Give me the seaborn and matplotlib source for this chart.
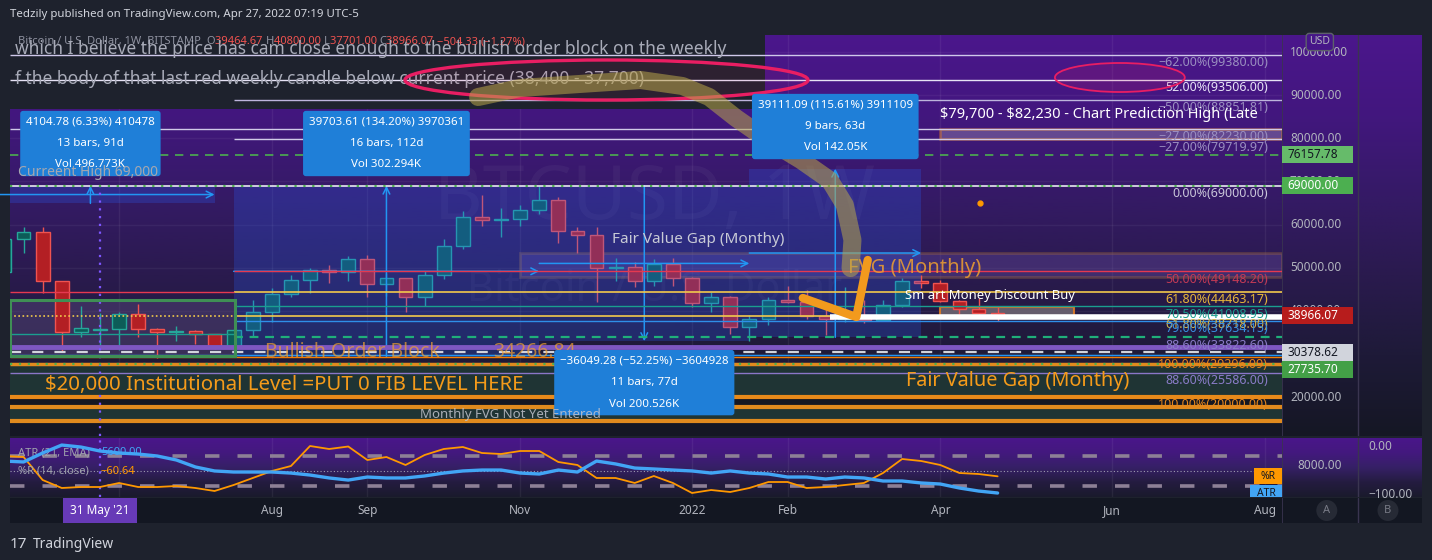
import numpy as np
import pandas as pd
import matplotlib
matplotlib.use("Agg")
import matplotlib.pyplot as plt
import matplotlib.transforms as mtrans
from matplotlib.patches import Rectangle, Ellipse
from matplotlib.colors import LinearSegmentedColormap
import seaborn as sns

# weekly BTCUSD (Bitstamp) candles, week of 26 Apr 2021 .. 25 Apr 2022
week_start = "2021-04-26"
opens = [49100, 56600, 58200, 46800, 35000, 35600, 35800, 39300, 35700, 35000,
         35400, 34500, 31500, 35500, 39800, 44000, 47200, 49400, 49000, 52000,
         46300, 47500, 43300, 48300, 54900, 61800, 61100, 61300, 63400, 65700,
         58600, 57600, 49800, 50200, 46800, 50900, 47500, 41900, 43300, 36300,
         38200, 42600, 42100, 38700, 38000, 38400, 37800, 41300, 46800, 46400,
         42200, 40400, 39464.67]
highs = [57900, 59500, 59500, 46900, 41200, 39500, 39700, 41500, 35900, 36500,
         35500, 34700, 35800, 42600, 45200, 48400, 50000, 50600, 52800, 53000,
         48800, 47600, 49200, 56600, 63100, 66900, 63800, 64600, 69000, 66400,
         59500, 59400, 52300, 51400, 52100, 52300, 47900, 44400, 43500, 39100,
         43100, 45800, 44900, 40500, 45400, 42500, 42400, 47700, 48200, 47200,
         42400, 42900, 40800]
lows = [47000, 53400, 44200, 30600, 33800, 31100, 31000, 33800, 29000, 32900,
        32300, 31100, 29400, 34100, 37500, 43100, 44200, 46500, 46800, 43100,
        43500, 39800, 41000, 47300, 54300, 59600, 57000, 59700, 62500, 55800,
        53500, 42100, 47000, 45600, 45800, 45800, 40800, 39700, 34500, 33100,
        36800, 41700, 38000, 34400, 37500, 37200, 37600, 40900, 45200, 42100,
        39200, 38500, 37701]
closes = [56600, 58200, 46800, 35000, 35900, 35800, 39300, 35700, 35000, 35400,
          34500, 31700, 35500, 39800, 44000, 47200, 49400, 49000, 52000, 46300,
          47500, 43300, 48300, 54900, 61800, 61100, 61300, 63400, 65700, 58600,
          57600, 49800, 50200, 46800, 50900, 47500, 41900, 43300, 36300, 38200,
          42600, 42100, 38700, 38000, 38400, 37800, 41300, 46800, 46400, 42200,
          40400, 39400, 38966.07]
atr = [8340, 8260, 9030, 9710, 9540, 9200, 9030, 8940, 8770, 8430,
       7830, 7490, 7400, 7400, 7400, 7310, 7140, 6890, 6710, 6970,
       6890, 6890, 7060, 7310, 7490, 7570, 7570, 7310, 7230, 7570,
       7400, 8340, 8090, 7740, 7660, 7570, 7490, 7310, 7490, 7310,
       7230, 6970, 6970, 6800, 6970, 6890, 6630, 6630, 6460, 6370,
       6030, 5770, 5600]
williams_r = [-20, -22, -68, -84, -82, -82, -74, -82, -82, -80,
              -84, -90, -78, -64, -50, -40, 0, -6, -1, -28,
              -22, -38, -18, -6, -2, -14, -16, -10, -10, -32,
              -38, -64, -64, -74, -60, -74, -94, -88, -92, -84,
              -72, -72, -84, -82, -78, -74, -54, -26, -30, -38,
              -54, -56, -60.64]

# fib levels drawn on the chart
fib_prices = [99380.00, 93506.00, 88851.81, 82230.00, 79719.97, 69000.00, 49148.20,
              44463.17, 41008.95, 38718.00, 37634.15, 33822.60, 29296.09, 25586.00, 20000.00]
fib_pcts = ["−62.00%", "52.00%", "−50.00%", "−27.00%", "−27.00%", "0.00%", "50.00%",
            "61.80%", "70.50%", "61.80%", "79.00%", "88.60%", "100.00%", "88.60%", "100.00%"]

# price-range measurements: start bar, end bar, from price, to price
meas_start = [-7, 7, 23, 34]
meas_end = [6, 23, 34, 43]
meas_from = [64895.22, 29296.39, 69000.00, 33829.91]
meas_to = [69000.00, 69000.00, 32950.72, 72941.00]
meas_text = ["4104.78 (6.33%) 410478\n13 bars, 91d\nVol 496.773K",
             "39703.61 (134.20%) 3970361\n16 bars, 112d\nVol 302.294K",
             "−36049.28 (−52.25%) −3604928\n11 bars, 77d\nVol 200.526K",
             "39111.09 (115.61%) 3911109\n9 bars, 63d\nVol 142.05K"]

tag_prices = [76157.78, 69000.00, 38966.07, 30378.62, 27735.70]
price_ticks = [100000, 90000, 80000, 70000, 60000, 50000, 40000, 30000, 20000]
tick_months = ["2021-06", "2021-08", "2021-09", "2021-11", "2022-01", "2022-02", "2022-04", "2022-06", "2022-08"]
tick_labels = ["Jun", "Aug", "Sep", "Nov", "2022", "Feb", "Apr", "Jun", "Aug"]

# hand drawings (bar, price)
stroke_x = [19.8, 22.0, 25.1, 28.3, 30.5, 31.9, 33.3, 34.8, 36.7, 38.2, 39.0, 39.4, 39.3]
stroke_p = [89565, 91652, 92580, 93507, 92116, 89565, 84696, 80058, 74957, 70319, 64522, 56407, 49914]
check_x = [36.8, 39.6, 40.2]
check_p = [42958, 38552, 51769]

sns.set_theme(style="dark", rc={"axes.grid": False})
plt.rcParams["font.family"] = ["Noto Sans", "DejaVu Sans"]

ref = pd.Timestamp("2021-05-31")
weeks = pd.date_range(week_start, periods=len(closes), freq="W-MON")
df = pd.DataFrame({"bar": (weeks - ref).days // 7, "open": opens, "high": highs,
                   "low": lows, "close": closes, "atr": atr, "wr": williams_r})
tick_bars = [int(np.ceil((pd.Timestamp(m + "-01") - ref).days / 7)) for m in tick_months]

W, H = 1432, 560
fig = plt.figure(figsize=(W / 100, H / 100), dpi=100, facecolor="#1e222d")


def rect(l, t, r, b):
    return [l / W, 1 - b / H, (r - l) / W, (b - t) / H]


def bare(a, fc="#131722"):
    a.set_facecolor(fc)
    a.set_xticks([])
    a.set_yticks([])
    a.set_xlabel("")
    a.set_ylabel("")
    for s in a.spines.values():
        s.set_visible(False)


def gradient(a, stops):
    cmap = LinearSegmentedColormap.from_list("g", stops)
    x0, x1 = a.get_xlim()
    y0, y1 = a.get_ylim()
    a.imshow(np.linspace(0, 1, 256)[:, None], cmap=cmap, aspect="auto",
             extent=(x0, x1, y0, y1), zorder=0)
    a.set_xlim(x0, x1)
    a.set_ylim(y0, y1)


XL = (-4.71, 61.89)
YL = (10958, 103942)
ax = fig.add_axes(rect(10, 35, 1282, 436))
axi = fig.add_axes(rect(10, 438, 1282, 497))
axt = fig.add_axes(rect(10, 498, 1282, 523))
axr = fig.add_axes(rect(1282, 35, 1422, 436))
axri = fig.add_axes(rect(1282, 438, 1422, 497))
axr2 = fig.add_axes(rect(1282, 498, 1422, 523))
for a in (ax, axi, axt):
    a.set_xlim(*XL)
ax.set_ylim(*YL)
axi.set_ylim(-102, 16)

main_stops = ["#4b168c", "#42177e", "#351a66", "#2a1a4e", "#1e1a38", "#151724"]
ind_stops = ["#4a168a", "#43197e", "#362066", "#241c40", "#1a1a2c"]
gradient(ax, main_stops)
gradient(axi, ind_stops)
gradient(axr, main_stops)
gradient(axri, ind_stops)

# grid
for b in tick_bars:
    ax.axvline(b, color="white", alpha=0.06, lw=1, zorder=0.5)
    axi.axvline(b, color="white", alpha=0.06, lw=1, zorder=0.5)
for p in price_ticks:
    ax.axhline(p, color="white", alpha=0.05, lw=1, zorder=0.5)

# bottom FVG boxes
ax.add_patch(Rectangle((XL[0], 20000), XL[1] - XL[0], 27735.70 - 20000, fc="#1f3434", ec="none", zorder=1))
ax.add_patch(Rectangle((XL[0], 17700), XL[1] - XL[0], 20000 - 17700, fc="#141722", ec="none", zorder=1))
ax.add_patch(Rectangle((XL[0], 14450), XL[1] - XL[0], 17700 - 14450, fc="#1f3434", ec="none", zorder=1))
ax.add_patch(Rectangle((XL[0], YL[0]), XL[1] - XL[0], 14450 - YL[0], fc="#151724", ec="none", zorder=1))

# zones
ax.add_patch(Rectangle((XL[0], 29500), 7.07 - XL[0], 13000, fc="#5a4a80", alpha=0.45, ec="none", zorder=1.2))
ax.add_patch(Rectangle((XL[0], 29500), 7.07 - XL[0], 13000, fc="none", ec="#3f8f55", lw=2.2, zorder=3.3))
ax.add_patch(Rectangle((22, 47827), XL[1] - 22, 53392 - 47827, fc="#6b4fa8", alpha=0.35, ec="#a86f3a", lw=2, zorder=1.3))
ax.add_patch(Rectangle((44, 79720), XL[1] - 44, 2510, fc="#8a7aa8", alpha=0.5, ec="#e07b24", lw=1.8, zorder=1.3))
ax.add_patch(Rectangle((44, 38784), 7, 2086, fc="#6d6470", alpha=0.9, ec="#e07b24", lw=1.5, zorder=1.9))

# watermark
ax.text(29.06, 65682, "BTCUSD, 1W", fontsize=54, color="white", alpha=0.04, ha="center", va="center", zorder=1.5)
ax.text(29.06, 44812, "Bitcoin / U.S. Dollar", fontsize=30, color="white", alpha=0.04, ha="center", va="center", zorder=1.5)

# candles
up = df["close"] >= df["open"]
body_lo = np.minimum(df["open"], df["close"])
body_h = np.maximum(np.abs(df["close"] - df["open"]), 250)
face = np.where(up, "#0d5c58", "#b31f24")
edge = np.where(up, "#26a69a", "#ef5350")
ax.vlines(df["bar"], df["low"], df["high"], colors=edge, lw=1, zorder=2)
ax.bar(df["bar"], body_h, bottom=body_lo, width=0.72, color=face, edgecolor=edge, linewidth=1, zorder=2.1)

# measurements
for s, e, p0, p1, txt in zip(meas_start, meas_end, meas_from, meas_to, meas_text):
    lo, hi = min(p0, p1), max(p0, p1)
    ax.add_patch(Rectangle((s, lo), e - s, hi - lo, fc="#2962ff", alpha=0.24, ec="none", zorder=2.6))
    mx, mp = (s + e) / 2, (p0 + p1) / 2
    arrow = dict(arrowstyle="->", color="#2196f3", lw=1.1, shrinkA=0, shrinkB=0)
    ax.annotate("", xy=(mx, p1), xytext=(mx, p0), arrowprops=arrow, zorder=2.7)
    ax.annotate("", xy=(e, mp), xytext=(s, mp), arrowprops=arrow, zorder=2.7)
    rising = p1 > p0
    ax.annotate(txt, xy=(mx, hi if rising else lo), xytext=(0, 11 if rising else -10.5),
                textcoords="offset points", ha="center", va="bottom" if rising else "top",
                fontsize=8.3, color="white", linespacing=2.3, zorder=6,
                bbox=dict(boxstyle="round,pad=0.5,rounding_size=0.25", fc="#1f7fd8", ec="none"))

# dark pasted note at the top
ax.add_patch(Rectangle((XL[0], 86783), 34.82 - XL[0], YL[1] - 86783, fc="#1e222d", ec="none", zorder=2.8))

# fib lines and labels
fib_start = [XL[0], XL[0], 7, XL[0], 7, XL[0], 7, 7, 7, 7, 7, 7, XL[0], XL[0], XL[0]]
fib_line_colors = ["#cfc8ea", "#e6e2f5", "#bdb4dc", "#d0cae8", "#d0cae8", "#e8e8f0", "#e53950",
                   "#f2c94c", "#1a9e8f", "#f2c94c", "#2f8fe8", "#1fb07a", "#f57c00", "#8a76c8", "#e88a1a"]
fib_text_colors = ["#9a8fc0", "#e6e2f5", "#9a8fc0", "#9a8fc0", "#9a8fc0", "#c9c6da", "#c23a55",
                   "#e8b53a", "#1a9e8f", "#d4b84a", "#3a8fe0", "#8a7cc8", "#e8861a", "#8a7cc8", "#e8861a"]
fib_lw = [1, 1, 1, 1, 1, 1.2, 1, 1.2, 1, 1.2, 1, 1.6, 1, 1, 3]
fib_ls = ["-"] * 11 + [(0, (4, 3))] + ["-"] * 3
for p, s, lc, lbl, tc, lw, ls in zip(fib_prices, fib_start, fib_line_colors, fib_pcts, fib_text_colors, fib_lw, fib_ls):
    ax.hlines(p, s, XL[1], colors=lc, lw=lw, linestyles=[ls], zorder=3)
    ax.annotate(f"{lbl}({p:.2f})", xy=(61.15, p), xytext=(0, -1), textcoords="offset points",
                ha="right", va="top", fontsize=9, color=tc, zorder=4)

# order-block fib (left part)
ax.hlines(44463.17, XL[0], 7, colors="#e53950", lw=1, zorder=3)
ax.hlines(38718.00, XL[0], 7, colors="#f2c94c", lw=1.2, linestyles=[(0, (1, 1.5))], zorder=3)
ax.hlines(34600, XL[0], 7, colors="#1a9e8f", lw=1, zorder=3)

# other levels
ax.hlines(76157.78, *XL, colors="#4caf50", lw=1.2, linestyles=[(0, (5, 4))], zorder=3)
ax.hlines(69000.00, *XL, colors="#4caf50", lw=1.6, linestyles=[(0, (1, 3))], zorder=3.1)
ax.hlines(31480, *XL, colors="#7e57c2", lw=3.5, zorder=2.9)
ax.hlines(30378.62, *XL, colors="#d1d4dc", lw=1.6, linestyles=[(0, (5, 5))], zorder=3)
ax.hlines(29740, *XL, colors="#2196f3", lw=1, zorder=3)
ax.hlines(27735.70, *XL, colors="#e08a1e", lw=2.5, zorder=3)
ax.hlines(27735.70, *XL, colors="#4caf50", lw=1.6, linestyles=[(0, (1, 3))], zorder=3.1)
ax.hlines([17700, 14450], *XL, colors="#e08a1e", lw=3, zorder=3)
ax.hlines(38600, 38.2, XL[1], colors="white", lw=4, zorder=3.2)

# crosshair
ax.vlines(0, YL[0], 69000, colors="#7e57ff", lw=1.6, linestyles=[(0, (1, 2.5))], zorder=3)
axi.axvline(0, color="#7e57ff", lw=1.6, ls=(0, (1, 2.5)), zorder=3)

# drawings
ax.add_patch(Ellipse((26.52, 93507), 21.1, 9275, fc="#e91e63", alpha=0.08, ec="none", zorder=4.4))
ax.add_patch(Ellipse((26.52, 93507), 21.1, 9275, fill=False, ec="#e91e63", lw=2.4, zorder=4.5))
ax.add_patch(Ellipse((53.4, 94087), 6.8, 6725, fc=(0.91, 0.12, 0.39, 0.15), ec="#e91e63", lw=1.3, zorder=4.5))
ax.plot(stroke_x, stroke_p, color="#b8a64a", alpha=0.55, lw=13, solid_capstyle="round",
        solid_joinstyle="round", zorder=5)
ax.plot(check_x, check_p, color="#f29a1d", lw=6, solid_capstyle="round", zorder=5.1)
ax.plot([46.07], [64986], "o", color="#ff9800", ms=3.5, zorder=5)

# texts
note1 = "which I believe the price has cam close enough to the bullish order block on the weekly"
note2 = "f the body of that last red weekly candle below current price (38,400 - 37,700)"
t = ax.text(-4.29, 102319, "Bitcoin / U.S. Dollar, 1W, BITSTAMP  ", fontsize=8, color="#8f92a0", va="center", zorder=3.4)
for s, c in [("O", "#8f92a0"), ("39464.67 ", "#ef5350"), ("H", "#8f92a0"), ("40800.00 ", "#ef5350"),
             ("L", "#8f92a0"), ("37701.00 ", "#ef5350"), ("C", "#8f92a0"), ("38966.07 ", "#ef5350"),
             ("−504.33 (−1.27%)", "#ef5350")]:
    t = ax.annotate(s, xy=(1, 0), xycoords=t, va="bottom", ha="left", fontsize=8, color=c, zorder=3.4)
ax.text(-4.45, 100700, note1, fontsize=12.5, color="#a8abb8", va="center", zorder=3.5)
ax.text(-4.45, 93750, note2, fontsize=12.5, color="#a8abb8", va="center", zorder=3.5)
ax.text(-4.29, 72174, "Curreent High 69,000", fontsize=10, fontweight="bold", color="#a5a7b0", va="center", zorder=7)
ax.text(43.98, 85623, r"\$79,700 - \$82,230 - Chart Prediction High (Late", fontsize=10.5, color="white",
        va="center", zorder=4, clip_on=True)
ax.text(26.81, 56407, "Fair Value Gap (Monthy)", fontsize=11, color="#c8cad6", va="center", zorder=4)
ax.text(39.16, 49914, "FVG (Monthly)", fontsize=14.5, color="#f0a030", alpha=0.85, va="center", zorder=4)
ax.text(42.15, 43653, "Sm art Money Discount Buy", fontsize=9.4, color="white", va="center", zorder=4)
ax.text(8.64, 30436, "Bullish Order Block", fontsize=14, color="#f0a030", alpha=0.7, va="center", zorder=4)
ax.text(20.58, 30436, "34266.84", fontsize=14, color="#f0a030", alpha=0.7, va="center", zorder=4)
ax.text(-2.88, 22784, r"\$20,000 Institutional Level =PUT 0 FIB LEVEL HERE", fontsize=14.7, color="#f59b1a",
        va="center", zorder=4)
ax.text(42.2, 23712, "Fair Value Gap (Monthy)", fontsize=14.3, color="#f59b1a", va="center", zorder=4)
ax.text(16.75, 15950, "Monthly FVG Not Yet Entered", fontsize=9.5, color="#c0c2cc", alpha=0.85,
        va="center", zorder=7)

# indicator pane
axa = axi.twinx()
axa.set_ylim(5258, 10314)
axi.axhline(-20, color="#8d8096", lw=2.6, dashes=(4, 5), zorder=1)
axi.axhline(-80, color="#8d8096", lw=2.6, dashes=(4, 5), zorder=1)
axi.axhline(-50, color="#9c9cb0", lw=0.8, ls=(0, (1, 2)), zorder=1)
sns.lineplot(data=df, x="bar", y="wr", ax=axi, color="#ff9800", lw=1.3, zorder=3)
sns.lineplot(data=df, x="bar", y="atr", ax=axa, color="#42a5f5", lw=2.4, zorder=3)
axi.set_xlim(*XL)
axi.set_ylim(-102, 16)
axa.set_ylim(5258, 10314)
axi.text(0.0063, 0.746, "ATR (21, EMA)", transform=axi.transAxes, fontsize=8, color="#a0a3ad", va="center")
axi.text(0.0715, 0.746, f"{atr[-1]:.2f}", transform=axi.transAxes, fontsize=8, color="#42a5f5", va="center")
axi.text(0.0063, 0.44, "%R (14, close)", transform=axi.transAxes, fontsize=8, color="#a0a3ad", va="center")
axi.text(0.0715, 0.44, f"{williams_r[-1]:.2f}".replace("-", "−"), transform=axi.transAxes, fontsize=8,
         color="#ff9800", va="center")
tb = mtrans.blended_transform_factory(axi.transAxes, axi.transData)
axi.add_patch(Rectangle((0.978, williams_r[-1] - 16), 0.022, 32, transform=tb, fc="#ff9800", ec="none", zorder=5))
axi.text(0.989, williams_r[-1], "%R", transform=tb, fontsize=7.5, color="#131722", ha="center", va="center", zorder=6)
ta = mtrans.blended_transform_factory(axa.transAxes, axa.transData)
axa.add_patch(Rectangle((0.975, atr[-1] - 686), 0.025, 1372, transform=ta, fc="#42a5f5", ec="none", zorder=5))
axa.text(0.9875, atr[-1], "ATR", transform=ta, fontsize=7.5, color="#131722", ha="center", va="center", zorder=6)

# time axis (the month under the crosshair label is hidden)
bare(axt)
tt = mtrans.blended_transform_factory(axt.transData, axt.transAxes)
for b, lbl in zip(tick_bars, tick_labels):
    if abs(b) > 2:
        axt.text(b, 0.5, lbl, transform=tt, ha="center", va="center", fontsize=8.5, color="#b2b5be")
axt.add_patch(Rectangle((-1.94, 0), 3.88, 1, transform=tt, fc="#673ab7", ec="none", zorder=5))
axt.text(0, 0.5, "31 May '21", transform=tt, ha="center", va="center", fontsize=8.5, color="white", zorder=6)

# right price scale
tr = mtrans.blended_transform_factory(axr.transAxes, ax.transData)
for p in price_ticks:
    axr.text(0.057, p, f"{p:.2f}", transform=tr, fontsize=8.5, color="#b2b5be", va="center", clip_on=False)
tag_fc = ["#66bb6a", "#4caf50", "#b71c1c", "#d1d4dc", "#43a047"]
tag_tc = ["#131722", "white", "white", "#131722", "white"]
gap = 17 * (YL[1] - YL[0]) / 401
placed = []
for p in tag_prices:
    y = p
    if placed and placed[-1] - y < gap:
        y = placed[-1] - gap
    placed.append(y)
for y, p, fc, tc in zip(placed, tag_prices, tag_fc, tag_tc):
    axr.add_patch(Rectangle((0, y - gap / 2), 0.507, gap, transform=tr, fc=fc, ec="none", zorder=5, clip_on=False))
    axr.text(0.036, y, f"{p:.2f}", transform=tr, fontsize=8.5, color=tc, va="center", zorder=6, clip_on=False)
axr.text(0.27, 102319, "USD", transform=tr, fontsize=7.5, color="#b2b5be", ha="center", va="center", zorder=6,
         bbox=dict(boxstyle="round,pad=0.3", fc="#461688", ec="#5d606b", lw=1))
tra = mtrans.blended_transform_factory(axri.transAxes, axa.transData)
axri.text(0.107, 8000, "8000.00", transform=tra, fontsize=8.5, color="#b2b5be", va="center", clip_on=False)
tri = mtrans.blended_transform_factory(axri.transAxes, axi.transData)
axri.text(0.614, 0, "0.00", transform=tri, fontsize=8.5, color="#b2b5be", va="center", clip_on=False)
axri.text(0.614, -96, "−100.00", transform=tri, fontsize=8.5, color="#b2b5be", va="center", clip_on=False)

bare(axr2)
axr2.text(0.32, 0.5, "A", transform=axr2.transAxes, ha="center", va="center", fontsize=8, color="#787b86",
          bbox=dict(boxstyle="circle,pad=0.45", fc="#262a35", ec="none"))
axr2.text(0.757, 0.5, "B", transform=axr2.transAxes, ha="center", va="center", fontsize=8, color="#787b86",
          bbox=dict(boxstyle="circle,pad=0.45", fc="#262a35", ec="none"))

for a in (ax, axi, axa, axr, axri):
    bare(a, "none")
for a in (axr, axri, axr2):
    a.axvline(0, color="#3a3550", lw=1.2)
    a.axvline(0.543, color="#3a3550", lw=1)

fig.text(10 / W, 1 - 14 / H, "Tedzily published on TradingView.com, Apr 27, 2022 07:19 UTC-5",
         fontsize=8.25, color="#d1d4dc", va="center")
fig.text(10 / W, 1 - 545 / H, "17", fontsize=11, fontweight="heavy", color="#d1d4dc", va="center")
fig.text(33 / W, 1 - 545 / H, "TradingView", fontsize=10, color="#d1d4dc", va="center")

fig.savefig("out.png", dpi=100, facecolor=fig.get_facecolor())
